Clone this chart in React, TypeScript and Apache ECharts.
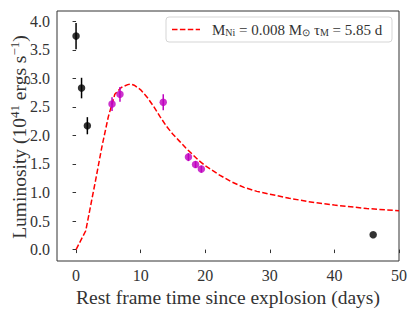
import React, { useEffect, useRef } from "react";
import * as echarts from "echarts";

// Model light curve (M_Ni = 0.008 Msun, tau_M = 5.85 d)
const modelT = [0, 1, 1.5, 2, 3, 4, 5, 6, 7, 8, 8.5, 9, 10, 11, 12, 13, 14, 15, 16, 17, 18, 19, 20, 22, 24, 26, 28, 30, 33, 36, 40, 45, 50];
const modelL = [0, 0.22, 0.33, 0.62, 1.2, 1.8, 2.33, 2.72, 2.84, 2.89, 2.9, 2.88, 2.8, 2.67, 2.51, 2.33, 2.16, 2.02, 1.9, 1.78, 1.67, 1.56, 1.47, 1.32, 1.19, 1.09, 1.02, 0.97, 0.9, 0.84, 0.78, 0.72, 0.68];

// Black observations: time, luminosity, error
const blackT = [0, 0.85, 1.75, 46.0];
const blackL = [3.74, 2.83, 2.17, 0.26];
const blackE = [0.23, 0.18, 0.15, 0.0];

// Magenta observations
const magT = [5.57, 6.8, 13.5, 17.4, 18.5, 19.4];
const magL = [2.55, 2.72, 2.58, 1.62, 1.49, 1.41];
const magE = [0.12, 0.13, 0.14, 0.07, 0.06, 0.06];

const xTicks = [0, 10, 20, 30, 40, 50];
const yTicks = [0, 0.5, 1.0, 1.5, 2.0, 2.5, 3.0, 3.5, 4.0];

const FONT = "Liberation Serif";

function errSeries(ts: number[], ls: number[], es: number[], color: string) {
  return {
    type: "custom",
    z: 3,
    data: ts.map((t, i) => [t, ls[i], es[i]]),
    renderItem: (params: any, api: any) => {
      const x = api.value(0), y = api.value(1), e = api.value(2);
      const a = api.coord([x, y + e]);
      const b = api.coord([x, y - e]);
      return {
        type: "line",
        shape: { x1: a[0], y1: a[1], x2: b[0], y2: b[1] },
        style: { stroke: color, lineWidth: 1.5 },
      };
    },
  };
}

export default function App() {
  const ref = useRef<HTMLDivElement>(null);
  useEffect(() => {
    document.body.style.margin = "0";
    const chart = echarts.init(ref.current!, null, { renderer: "svg" });
    chart.setOption({
      animation: false,
      backgroundColor: "#ffffff",
      grid: { left: 57, right: 16, top: 11, bottom: 51, containLabel: false, outerBoundsMode: "none", show: true, borderColor: "#333", borderWidth: 1, backgroundColor: "transparent" },
      xAxis: {
        type: "value",
        min: -2.95,
        max: 50,
        splitLine: { show: false },
        axisLine: { show: false },
        axisTick: { show: true, inside: false, length: 3.5, lineStyle: { color: "#333" }, customValues: xTicks },
        axisLabel: { customValues: xTicks, margin: 6, color: "#333", fontFamily: FONT, fontSize: 16, formatter: (v: number) => String(v) },
        name: "Rest frame time since explosion (days)",
        nameLocation: "middle",
        nameGap: 24,
        nameTextStyle: { fontFamily: FONT, fontSize: 19.5, color: "#333" },
      },
      yAxis: {
        type: "value",
        min: -0.2,
        max: 4.18,
        splitLine: { show: false },
        axisLine: { show: false },
        axisTick: { show: true, inside: false, length: 3.5, lineStyle: { color: "#333" }, customValues: yTicks },
        axisLabel: { customValues: yTicks, margin: 7, color: "#333", fontFamily: FONT, fontSize: 16, formatter: (v: number) => v.toFixed(1) },
      },
      series: [
        {
          type: "line",
          z: 2,
          data: modelT.map((t, i) => [t, modelL[i]]),
          symbol: "none",
          lineStyle: { color: "#ff0000", width: 1.5, type: [5.5, 2.4] },
        },
        errSeries(blackT, blackL, blackE, "#000000"),
        errSeries(magT, magL, magE, "#bf00bf"),
        {
          type: "scatter", z: 4, symbolSize: 7.5,
          data: blackT.map((t, i) => [t, blackL[i]]),
          itemStyle: { color: "#000000" },
        },
        {
          type: "scatter", z: 4, symbolSize: 7.5,
          data: magT.map((t, i) => [t, magL[i]]),
          itemStyle: { color: "#bf00bf" },
        },
      ],
      graphic: [
        {
          type: "text", x: 19, y: 137, rotation: Math.PI / 2, z: 11,
          style: {
            text: "Luminosity (10{sup|41} ergs s{sup|−1})",
            fontFamily: FONT, fontSize: 19.5, fill: "#333", align: "center", verticalAlign: "middle",
            rich: { sup: { fontFamily: FONT, fontSize: 13, fill: "#333", padding: [0, 0, 9, 0] } },
          },
        },
        { type: "rect", shape: { x: 166, y: 17, width: 226, height: 25, r: 3 }, style: { fill: "rgba(255,255,255,0.8)", stroke: "#d5d5d5", lineWidth: 1 }, z: 10 },
        { type: "line", shape: { x1: 172, y1: 29.5, x2: 200, y2: 29.5 }, style: { stroke: "#ff0000", lineWidth: 1.5, lineDash: [5.5, 2.4] }, z: 11 },
        {
          type: "text", x: 212, y: 29.5, z: 11,
          style: {
            text: "M{sub|Ni} = 0.008 M{sub|⊙} τ{sub|M} = 5.85 d",
            fontFamily: FONT, fontSize: 15, fill: "#333", verticalAlign: "middle",
            rich: { sub: { fontFamily: FONT, fontSize: 10, fill: "#333", padding: [6, 0, 0, 0] } },
          },
        },
      ],
    });
    return () => chart.dispose();
  }, []);
  return <div ref={ref} style={{ position: "absolute", left: 0, top: 0, width: 415, height: 312 }} />;
}
